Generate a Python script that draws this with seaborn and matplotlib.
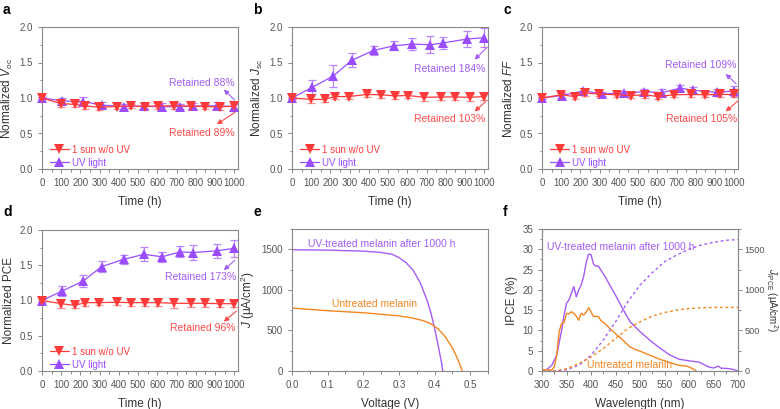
import numpy as np
import pandas as pd
import matplotlib
matplotlib.use("Agg")
import matplotlib.pyplot as plt
from matplotlib.ticker import MultipleLocator
import seaborn as sns

# ---------------- data ----------------
t_red = [0, 100, 170, 225, 295, 390, 465, 535, 605, 685, 775, 850, 925, 1000]
t_uv = [0, 105, 215, 310, 425, 530, 625, 720, 785, 910, 1000]

voc_red = [1.0, 0.92, 0.91, 0.89, 0.87, 0.88, 0.89, 0.88, 0.89, 0.89, 0.885, 0.88, 0.875, 0.885]
voc_red_err = [0.02, 0.04, 0.04, 0.05, 0.04, 0.04, 0.03, 0.04, 0.04, 0.04, 0.04, 0.04, 0.04, 0.04]
voc_uv = [1.0, 0.96, 0.95, 0.90, 0.88, 0.885, 0.875, 0.88, 0.885, 0.89, 0.88]
voc_uv_err = [0.02, 0.04, 0.06, 0.04, 0.03, 0.04, 0.05, 0.03, 0.04, 0.05, 0.04]

jsc_red = [1.0, 0.98, 0.98, 1.02, 1.02, 1.05, 1.045, 1.03, 1.035, 1.01, 1.015, 1.015, 1.01, 1.02]
jsc_red_err = [0.02, 0.05, 0.03, 0.04, 0.04, 0.03, 0.04, 0.04, 0.04, 0.05, 0.05, 0.05, 0.05, 0.05]
jsc_uv = [1.0, 1.15, 1.31, 1.53, 1.67, 1.735, 1.76, 1.75, 1.775, 1.83, 1.85]
jsc_uv_err = [0.02, 0.10, 0.16, 0.10, 0.06, 0.065, 0.08, 0.12, 0.09, 0.11, 0.13]

ff_red = [1.0, 1.045, 1.02, 1.07, 1.055, 1.045, 1.035, 1.045, 1.02, 1.045, 1.05, 1.045, 1.05, 1.05]
ff_red_err = [0.02, 0.04, 0.04, 0.04, 0.03, 0.03, 0.04, 0.04, 0.04, 0.03, 0.04, 0.03, 0.04, 0.04]
ff_uv = [1.0, 1.035, 1.10, 1.06, 1.065, 1.09, 1.075, 1.14, 1.11, 1.08, 1.10]
ff_uv_err = [0.02, 0.04, 0.04, 0.03, 0.03, 0.04, 0.05, 0.04, 0.04, 0.05, 0.07]

pce_red = [1.0, 0.955, 0.93, 0.97, 0.97, 0.975, 0.97, 0.97, 0.97, 0.96, 0.96, 0.96, 0.955, 0.955]
pce_red_err = [0.02, 0.06, 0.03, 0.05, 0.04, 0.04, 0.05, 0.05, 0.05, 0.06, 0.05, 0.05, 0.05, 0.05]
pce_uv = [1.0, 1.135, 1.277, 1.48, 1.584, 1.655, 1.62, 1.69, 1.68, 1.705, 1.74]
pce_uv_err = [0.02, 0.07, 0.08, 0.08, 0.06, 0.10, 0.07, 0.08, 0.11, 0.10, 0.12]

# J-V curves
v_uv = [0.0, 0.1, 0.2, 0.25, 0.28, 0.30, 0.32, 0.34, 0.36, 0.38, 0.39, 0.40, 0.41, 0.42, 0.423]
j_uv = [1494, 1490, 1477, 1461, 1440, 1398, 1336, 1241, 1087, 859, 714, 527, 320, 91, 0]
v_un = [0.0, 0.1, 0.2, 0.3, 0.34, 0.37, 0.39, 0.41, 0.43, 0.45, 0.46, 0.47, 0.478]
j_un = [776, 743, 718, 680, 651, 618, 581, 519, 423, 286, 195, 91, 0]

# IPCE spectra
wl_uv = [300, 310, 320, 330, 340, 345, 350, 355, 360, 365, 370, 375, 380, 385, 390, 395, 400,
         405, 410, 415, 420, 430, 440, 450, 460, 470, 480, 490, 500, 520, 540, 560, 580, 600,
         620, 640, 650, 660, 665, 680, 690, 700]
ipce_uv = [0.2, 0.4, 1.4, 3.9, 10.0, 13.8, 16.7, 17.5, 19.2, 20.8, 18.3, 20.0, 21.2, 23.3, 26.6,
           28.8, 28.7, 26.4, 25.8, 25.9, 24.9, 23.0, 20.8, 18.7, 16.4, 14.2, 12.1, 10.9, 9.7, 7.6,
           5.7, 4.0, 2.9, 2.5, 2.2, 1.0, 0.75, 1.2, 0.7, 0.6, 0.4, 0.0]
wl_un = [300, 310, 320, 325, 330, 335, 340, 345, 350, 355, 360, 365, 370, 375, 380, 385, 390,
         395, 400, 405, 410, 415, 420, 430, 440, 450, 460, 470, 480, 490, 500, 520, 540, 560,
         580, 595, 600, 610, 615]
ipce_un = [0.3, 0.3, 0.25, 1.0, 3.9, 9.7, 11.7, 12.0, 14.2, 14.1, 14.6, 14.2, 13.5, 12.5, 14.2,
           13.8, 14.5, 15.6, 14.6, 13.4, 13.5, 13.4, 12.5, 11.5, 10.3, 9.2, 8.2, 7.0, 5.9, 5.3,
           4.9, 3.9, 2.9, 2.1, 1.4, 1.2, 1.0, 0.4, 0.0]
wl_int = [300, 325, 350, 375, 400, 425, 450, 475, 500, 525, 550, 575, 600, 625, 650, 675, 700]
jint_uv = [0, 0, 16, 70, 194, 379, 606, 853, 1059, 1211, 1347, 1430, 1500, 1553, 1586, 1611, 1619]
jint_un = [0, 0, 29, 91, 173, 276, 400, 523, 606, 676, 721, 750, 770, 779, 783, 784, 784]

RED = "#FF3A3A"
RED_L = "#FF8A8A"
PUR = "#9A4DFF"
PUR_L = "#B985FF"
ORG = "#F5861F"
TXT_RED = "#FF4A4A"
TXT_PUR = "#A35CF5"
GREY = "#555555"

sns.set_theme(style="ticks")
plt.rcParams["font.family"] = ["Liberation Sans", "DejaVu Sans"]
plt.rcParams["mathtext.fontset"] = "custom"
plt.rcParams["mathtext.rm"] = "Liberation Sans"
plt.rcParams["mathtext.it"] = "Liberation Sans:italic"

W, H = 780, 409
fig = plt.figure(figsize=(7.8, 4.09), dpi=100)


def add_ax(l, t, r, b):
    return fig.add_axes([l / W, (H - b) / H, (r - l) / W, (b - t) / H])


def style(ax):
    for s in ax.spines.values():
        s.set_color("#8a8a8a")
        s.set_linewidth(0.8)
    ax.tick_params(which="both", direction="out", colors="#8a8a8a", labelcolor=GREY,
                   labelsize=7, width=0.7)
    ax.tick_params(which="major", length=3)
    ax.tick_params(which="minor", length=1.8)


def stab_panel(ax, red, red_err, uv, uv_err, ylabel, annots):
    df_r = pd.DataFrame({"t": t_red, "v": red})
    df_u = pd.DataFrame({"t": t_uv, "v": uv})
    ax.errorbar(t_red, red, yerr=red_err, fmt="none", ecolor=RED_L, elinewidth=0.9,
                capsize=2.6, capthick=0.9, zorder=2, clip_on=False)
    ax.errorbar(t_uv, uv, yerr=uv_err, fmt="none", ecolor=PUR_L, elinewidth=0.9,
                capsize=2.6, capthick=0.9, zorder=2, clip_on=False)
    sns.lineplot(data=df_r, x="t", y="v", ax=ax, color=RED, marker="v", markersize=6.5,
                 markeredgewidth=0, lw=0.9, label="1 sun w/o UV", zorder=4, clip_on=False)
    sns.lineplot(data=df_u, x="t", y="v", ax=ax, color=PUR, marker="^", markersize=6.5,
                 markeredgewidth=0, lw=0.9, label="UV light", zorder=3, clip_on=False)
    ax.set_xlim(0, 1020)
    ax.set_ylim(0, 2.0)
    ax.xaxis.set_major_locator(MultipleLocator(100))
    ax.xaxis.set_minor_locator(MultipleLocator(50))
    ax.yaxis.set_major_locator(MultipleLocator(0.5))
    ax.yaxis.set_minor_locator(MultipleLocator(0.25))
    ax.set_yticklabels([f"{v:.1f}" for v in ax.get_yticks()])
    ax.set_xlabel("Time (h)", fontsize=8.5, color="#333333", labelpad=6)
    ax.set_ylabel(ylabel, fontsize=8.5, color="#333333", labelpad=3)
    ax.legend(loc="lower left", bbox_to_anchor=(0.0, -0.045), frameon=False,
              fontsize=7, handlelength=2.0, handletextpad=0.3, labelspacing=0.3,
              labelcolor="linecolor", borderaxespad=0.4)
    for (txt, tx, ty, head, tail, col) in annots:
        ax.text(tx, ty, txt, color=col, fontsize=7.5, ha="right", va="center")
        ax.annotate("", xy=head, xytext=tail,
                    arrowprops=dict(arrowstyle="-|>", color=col, lw=0.8, mutation_scale=7,
                                    shrinkA=0, shrinkB=0), annotation_clip=False)
    style(ax)


# ---- panel a
ax_a = add_ax(42, 27, 238, 169)
stab_panel(ax_a, voc_red, voc_red_err, voc_uv, voc_uv_err, r"Normalized $\mathit{V}_{\rm oc}$",
           [("Retained 88%", 1005, 1.21, (946, 1.12), (1003, 0.97), TXT_PUR),
            ("Retained 89%", 1005, 0.50, (910, 0.63), (1005, 0.80), TXT_RED)])
# ---- panel b
ax_b = add_ax(292, 27, 488, 169)
stab_panel(ax_b, jsc_red, jsc_red_err, jsc_uv, jsc_uv_err, r"Normalized $\mathit{J}_{\rm sc}$",
           [("Retained 184%", 1007, 1.41, (950, 1.54), (1010, 1.70), TXT_PUR),
            ("Retained 103%", 1007, 0.705, (950, 0.81), (1008, 0.95), TXT_RED)])
# ---- panel c
ax_c = add_ax(542, 27, 738, 169)
stab_panel(ax_c, ff_red, ff_red_err, ff_uv, ff_uv_err, r"Normalized $\mathit{FF}$",
           [("Retained 109%", 1014, 1.46, (956, 1.34), (1010, 1.20), TXT_PUR),
            ("Retained 105%", 1014, 0.70, (956, 0.81), (1020, 0.96), TXT_RED)])
# ---- panel d
ax_d = add_ax(42, 230, 238, 371)
stab_panel(ax_d, pce_red, pce_red_err, pce_uv, pce_uv_err, "Normalized PCE",
           [("Retained 173%", 1009, 1.33, (946, 1.43), (1003, 1.57), TXT_PUR),
            ("Retained 96%", 1009, 0.615, (946, 0.70), (1012, 0.85), TXT_RED)])

# ---- panel e
ax_e = add_ax(292, 229, 488, 371)
sns.lineplot(x=v_uv, y=j_uv, ax=ax_e, color="#A55CF7", lw=1.0, sort=False)
sns.lineplot(x=v_un, y=j_un, ax=ax_e, color=ORG, lw=1.0, sort=False)
ax_e.set_xlim(0, 0.55)
ax_e.set_ylim(0, 1750)
ax_e.xaxis.set_major_locator(MultipleLocator(0.1))
ax_e.xaxis.set_minor_locator(MultipleLocator(0.05))
ax_e.yaxis.set_major_locator(MultipleLocator(500))
ax_e.yaxis.set_minor_locator(MultipleLocator(250))
ax_e.set_xticklabels([f"{v:.1f}" for v in ax_e.get_xticks()])
ax_e.set_xlabel("Voltage (V)", fontsize=8.5, color="#333333", labelpad=6)
ax_e.set_ylabel(r"$\mathit{J}$ (μA/cm$^2$)", fontsize=8.5, color="#333333", labelpad=3)
ax_e.text(0.046, 1565, "UV-treated melanin after 1000 h", color=TXT_PUR, fontsize=7.5,
          va="center", ha="left")
ax_e.text(0.112, 826, "Untreated melanin", color=ORG, fontsize=7.5, va="center", ha="left")
style(ax_e)

# ---- panel f
ax_f = add_ax(542, 229, 738, 371)
sns.lineplot(x=wl_uv, y=ipce_uv, ax=ax_f, color="#A55CF7", lw=1.0, sort=False)
sns.lineplot(x=wl_un, y=ipce_un, ax=ax_f, color=ORG, lw=1.0, sort=False)
ax_f.set_xlim(300, 700)
ax_f.set_ylim(0, 35)
ax_f.xaxis.set_major_locator(MultipleLocator(50))
ax_f.xaxis.set_minor_locator(MultipleLocator(25))
ax_f.yaxis.set_major_locator(MultipleLocator(5))
ax_f.yaxis.set_minor_locator(MultipleLocator(2.5))
ax_f.set_xlabel("Wavelength (nm)", fontsize=8.5, color="#333333", labelpad=6)
ax_f.set_ylabel("IPCE (%)", fontsize=8.5, color="#333333", labelpad=3)
ax_f.text(310, 30.6, "UV-treated melanin after 1000 h", color=TXT_PUR, fontsize=7.5,
          va="center", ha="left")
ax_f.text(391, 1.5, "Untreated melanin", color=ORG, fontsize=7.5, va="center", ha="left")
style(ax_f)
ax_f2 = ax_f.twinx()
sns.lineplot(x=wl_int, y=jint_uv, ax=ax_f2, color="#A55CF7", lw=1.0, linestyle=(0, (2, 2)))
sns.lineplot(x=wl_int, y=jint_un, ax=ax_f2, color=ORG, lw=1.0, linestyle=(0, (2, 2)))
ax_f2.set_ylim(0, 1750)
ax_f2.set_xlim(300, 700)
ax_f2.yaxis.set_major_locator(MultipleLocator(500))
ax_f2.yaxis.set_minor_locator(MultipleLocator(250))
style(ax_f2)
ax_f2.tick_params(axis="y", which="both", pad=1.5, labelsize=6.6)
ax_f2.set_ylabel(r"$\mathit{J}_{\rm IPCE}$ (μA/cm$^2$)", fontsize=7, color="#333333",
                 rotation=-90, va="center", ha="center", labelpad=0)
ax_f2.yaxis.set_label_coords(1.172, 0.5)

# panel letters
for lbl, x, y in [("a", 3, 10), ("b", 253, 10), ("c", 503, 10),
                  ("d", 3, 212), ("e", 253, 212), ("f", 503, 212)]:
    fig.text(x / W, 1 - y / H, lbl, fontsize=10, fontweight="bold", color="black",
             ha="left", va="center")

fig.savefig("out.png", dpi=100)
